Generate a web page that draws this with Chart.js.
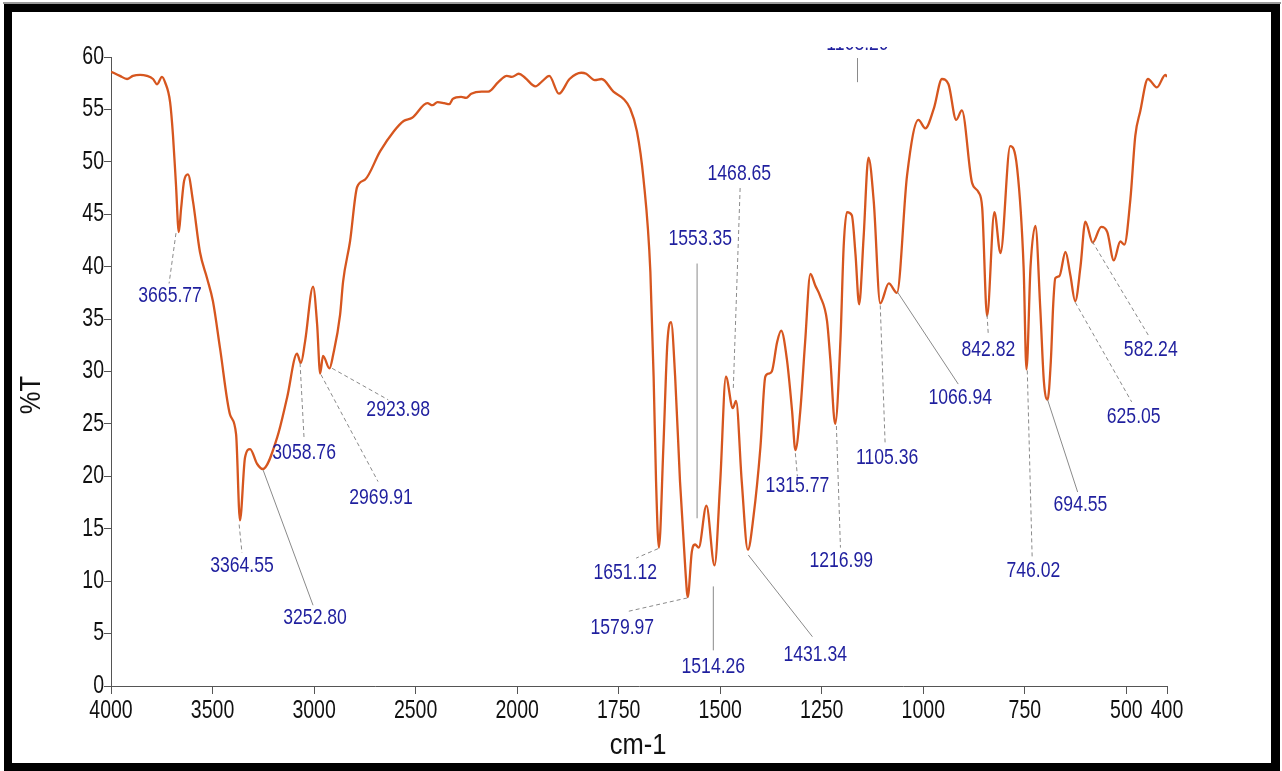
<!DOCTYPE html>
<html><head><meta charset="utf-8">
<script src="https://cdn.jsdelivr.net/npm/chart.js@4.4.1/dist/chart.umd.min.js"></script>
<style>html,body{margin:0;padding:0;background:#fff;overflow:hidden}#wrap{position:relative;width:1282px;height:771px}</style>
</head><body><div id="wrap"><canvas id="c" width="1282" height="771"></canvas></div>
<script>
// ---- data (cm-1, %T) ----
const wavenumbers = [4000,3956,3921,3892,3857,3823,3793,3773,3749,3734,3709,3695,3680,3666,3655,3640,3621,3596,3562,3527,3498,3463,3414,3384,3365,3340,3315,3281,3253,3182,3133,3084,3065,3044,3005,2985,2970,2956,2924,2906,2872,2857,2823,2788,2749,2675,2608,2559,2517,2442,2417,2392,2359,2334,2317,2276,2251,2226,2175,2142,2093,2051,2026,1996,1980,1955,1938,1921,1897,1871,1842,1830,1809,1792,1763,1738,1722,1705,1689,1672,1664,1658,1651,1640,1630,1621,1611,1599,1586,1580,1570,1562,1553,1534,1514,1500,1486,1469,1461,1447,1432,1418,1401,1389,1381,1373,1360,1350,1336,1323,1315,1303,1291,1278,1266,1254,1237,1229,1217,1204,1196,1188,1176,1167,1158,1147,1135,1122,1106,1085,1065,1040,1012,995,974,954,938,919,905,880,864,855,843,825,810,786,769,753,746,736,724,712,703,694,686,680,675,665,650,638,626,613,601,583,562,547,531,515,505,490,478,466,447,425,404,400];
const transmittance = [58.6,58.2,57.9,58.2,58.3,58.2,57.9,57.4,58.1,57.6,55.7,52.6,47.8,43.3,45.5,48.2,48.8,46.2,41.4,38.9,36.7,32.2,25.9,24.0,15.8,21.8,22.6,21.2,20.7,23.7,27.5,31.7,30.8,32.9,38.1,34.5,29.8,31.5,30.3,31.6,35.4,38.6,42.4,47.6,48.3,51.0,52.9,53.9,54.2,55.6,55.4,55.7,55.6,55.5,56.0,56.2,56.1,56.5,56.7,56.7,57.6,58.2,58.1,58.4,58.0,57.2,57.7,58.2,56.5,57.9,58.5,58.4,57.8,57.9,56.7,56.0,55.1,52.9,48.4,39.5,29.5,19.5,13.2,22.8,32.8,34.7,29.5,19.5,11.2,8.5,12.8,13.5,13.2,17.2,11.5,19.5,29.5,26.5,27.2,19.5,13.0,16.2,22.8,29.5,29.8,30.0,32.8,33.9,31.2,26.2,22.5,26.2,32.8,39.3,38.2,37.2,34.8,31.2,25.0,33.0,42.0,45.2,44.9,41.2,36.4,42.8,50.4,46.2,36.5,38.4,37.5,48.7,54.0,53.2,55.1,57.9,57.4,54.0,54.9,48.0,47.1,45.6,35.3,45.2,41.3,51.5,49.4,39.9,30.2,40.0,43.9,36.0,29.0,27.3,31.0,36.5,38.9,39.1,41.4,39.2,36.7,40.0,44.3,42.3,43.8,43.3,40.6,42.4,42.1,46.5,52.5,54.8,57.9,57.1,58.3,58.1];
const xTickValues = [4000,3500,3000,2500,2000,1750,1500,1250,1000,750,500,400];
const yTickStep = 5;
const yRange = [0, 60];
const peakLabels = ['3665.77','3364.55','3252.80','3058.76','2969.91','2923.98','1651.12','1579.97','1553.35','1468.65','1514.26','1431.34','1315.77','1216.99','1105.36','1066.94','842.82','746.02','694.55','625.05','582.24','1168.29'];
// label layout in data units: [textW, textT, fromW, fromT, toW, toT, dashed]
const labelLayout = [
 [3709,37.2, 3680,43.2, 3714,38.4, 1],
 [3355,11.5, 3369,15.4, 3355,12.7, 1],
 [2995,6.5, 3251,20.6, 3005,7.7, 0],
 [3049,22.2, 3069,30.8, 3049,23.5, 1],
 [2670,17.9, 2966,29.7, 2685,19.5, 1],
 [2586,26.3, 2911,30.3, 2635,27.3, 1],
 [1734,10.8, 1653,13.1, 1707,12.2, 1],
 [1741,5.5, 1581,8.4, 1729,7.1, 1],
 [1549,42.6, 1557,40.3, 1557,16.0, 0],
 [1453,48.8, 1451,47.5, 1468,28.2, 1],
 [1517,1.8, 1517,9.5, 1517,3.4, 0],
 [1266,3.0, 1431,12.5, 1273,4.7, 0],
 [1310,19.1, 1315,22.2, 1310,20.0, 1],
 [1202,11.9, 1214,24.8, 1204,13.2, 1],
 [1089,21.8, 1106,36.3, 1094,23.1, 1],
 [909,27.5, 1064,37.6, 914,28.8, 0],
 [840,32.1, 843,35.4, 840,33.5, 1],
 [729,11.0, 744,30.1, 732,12.3, 1],
 [613,17.3, 694,27.3, 620,18.5, 0],
 [482,25.7, 626,36.6, 487,27.1, 1],
 [440,32.1, 584,42.4, 445,33.4, 1],
 [1162,61.2, 1162,59.9, 1162,57.6, 0]
];

// split IR axis: 4000-2000 compressed x2
function toAxis(w){ return w >= 2000 ? (4000 - w) / 2 : 1000 + (2000 - w); }
function fromAxis(v){ return v <= 1000 ? 4000 - 2 * v : 2000 - (v - 1000); }

const FAM = "'Liberation Sans',Arial,sans-serif";

// draw condensed text (reference glyphs are narrow and tall)
function condensedText(ctx, text, x, y, size, squeeze, align, color){
  ctx.save();
  ctx.translate(x, y);
  ctx.scale(squeeze, 1);
  ctx.font = size + 'px ' + FAM;
  ctx.fillStyle = color;
  ctx.textAlign = align; ctx.textBaseline = 'middle';
  ctx.fillText(text, 0, 0);
  ctx.restore();
}

const decor = {
  id: 'decor',
  afterDatasetsDraw(chart){
    const ctx = chart.ctx, xs = chart.scales.x, ys = chart.scales.y;
    // tick labels
    xs.ticks.forEach(t => {
      condensedText(ctx, String(Math.round(fromAxis(t.value))), xs.getPixelForValue(t.value), 711, 25, 0.78, 'center', '#111');
    });
    ys.ticks.forEach(t => {
      condensedText(ctx, String(t.value), 104, ys.getPixelForValue(t.value), 25, 0.78, 'right', '#111');
    });
    // peak annotations
    labelLayout.forEach((L, i) => {
      const tx = xs.getPixelForValue(toAxis(L[0])), ty = ys.getPixelForValue(L[1]);
      const x1 = xs.getPixelForValue(toAxis(L[2])), y1 = ys.getPixelForValue(L[3]);
      const x2 = xs.getPixelForValue(toAxis(L[4])), y2 = ys.getPixelForValue(L[5]);
      ctx.save();
      if (L[1] > yRange[1]) { ctx.beginPath(); ctx.rect(0, chart.chartArea.top - 10, chart.width, chart.height); ctx.clip(); }
      ctx.strokeStyle = '#8a8a8a'; ctx.lineWidth = 1;
      ctx.setLineDash(L[6] ? [4, 3] : []);
      ctx.beginPath(); ctx.moveTo(x1, y1); ctx.lineTo(x2, y2); ctx.stroke();
      ctx.setLineDash([]);
      condensedText(ctx, peakLabels[i], tx, ty, 22, 0.8, 'center', '#1f1f9e');
      ctx.restore();
    });
  },
  afterDraw(chart){
    const ctx = chart.ctx;
    condensedText(ctx, 'cm-1', 638, 746, 29, 0.88, 'center', '#111');
    ctx.save();
    ctx.translate(32, 395); ctx.rotate(-Math.PI / 2);
    condensedText(ctx, '%T', 0, 0, 30, 0.85, 'center', '#111');
    ctx.restore();
    // frame
    ctx.save();
    ctx.fillStyle = '#000';
    ctx.fillRect(4, 4, 1276, 8);
    ctx.fillRect(4, 4, 8, 767);
    ctx.fillRect(1271, 4, 9, 767);
    ctx.fillRect(4, 763, 1276, 8);
    ctx.fillStyle = '#999';
    ctx.fillRect(3, 2, 1278, 2);
    ctx.restore();
  }
};

new Chart(document.getElementById('c'), {
  type: 'line',
  data: {
    datasets: [{
      data: wavenumbers.map((w, i) => ({x: toAxis(w), y: transmittance[i]})),
      borderColor: '#d6561f', borderWidth: 2.3, pointRadius: 0,
      cubicInterpolationMode: 'monotone', fill: false
    }]
  },
  options: {
    responsive: false, animation: false, devicePixelRatio: 1,
    layout: {padding: {left: 0, top: 57, right: 115, bottom: 0}},
    plugins: {legend: {display: false}, tooltip: {enabled: false}},
    scales: {
      x: {
        type: 'linear', min: 0, max: 2600,
        afterBuildTicks(axis){ axis.ticks = xTickValues.map(w => ({value: toAxis(w)})); },
        afterFit(s){ s.height = 85; },
        ticks: {display: false, autoSkip: false, maxRotation: 0},
        grid: {drawOnChartArea: false, drawTicks: true, tickLength: 8, color: '#555'},
        border: {display: true, color: '#555', width: 1}
      },
      y: {
        min: yRange[0], max: yRange[1],
        afterFit(s){ s.width = 111; },
        ticks: {display: false, stepSize: yTickStep},
        grid: {drawOnChartArea: false, drawTicks: true, tickLength: 7, color: '#555'},
        border: {display: true, color: '#555', width: 1}
      }
    }
  },
  plugins: [decor]
});
</script></body></html>
